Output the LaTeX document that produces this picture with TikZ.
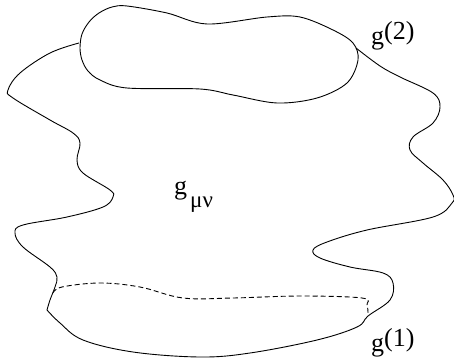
\documentclass[tikz,border=0pt]{standalone}
\usepackage{fontspec}
\setmainfont{Liberation Serif}
\begin{document}
\begin{tikzpicture}[x=1pt,y=-1pt,
  curve/.style={line width=0.9pt, black},
  lbl/.style={anchor=base west, inner sep=0pt, font=\fontsize{26}{28}\selectfont}]
\useasboundingbox (0,0) rectangle (454,358);
% inner loop
\draw[curve] plot[smooth cycle, tension=0.55] coordinates {
 (80,48) (82,34) (89,22) (99,13) (112,7) (127,6) (167,13) (207,24) (267,17) (300,17) (333,30) (353,43)
 (358,60) (347,83) (317,98) (277,103) (233,95) (200,89) (127,88) (100,80) (88,71) (82,60)};
% left side of outer curve
\draw[curve] plot[smooth, tension=0.6] coordinates {
 (79,43) (50,53) (20,73) (8,90) (13,98) (50,120) (73,133) (80,143) (77,160) (83,173)
 (110,190) (113,197) (103,207) (67,217) (23,225) (15,233) (23,247) (50,267) (57,277)
 (55,287) (50,300) (47,310)};
% bottom and right side of outer curve
\draw[curve] plot[smooth, tension=0.6] coordinates {
 (47,310) (60,323) (83,340) (133,352) (200,357) (250,353) (317,340) (357,327) (368,316)
 (390,300) (393,283) (383,273) (350,267) (320,258) (313,250) (327,242) (367,230)
 (433,217) (452,203) (453,195) (443,180) (423,163) (410,150) (413,137) (433,123)
 (440,107) (433,93) (400,77) (380,66) (356,48)};
% dashed curve
\draw[curve, dashed, dash pattern=on 5pt off 3pt] plot[smooth, tension=0.6] coordinates {
 (53,293) (62,287) (100,283) (140,287) (183,298) (233,298) (300,296) (362,298) (367,305) (368,313)};
\node[lbl] (g2) at (371,45) {g\raisebox{5pt}{(2)}};
\node[lbl] (g1) at (371,351) {g\raisebox{5pt}{(1)}};
\node[lbl] (gmn) at (174,194) {g\hspace{3pt}\raisebox{-13pt}{\fontsize{23}{26}\selectfont μν}};
\end{tikzpicture}
\end{document}
